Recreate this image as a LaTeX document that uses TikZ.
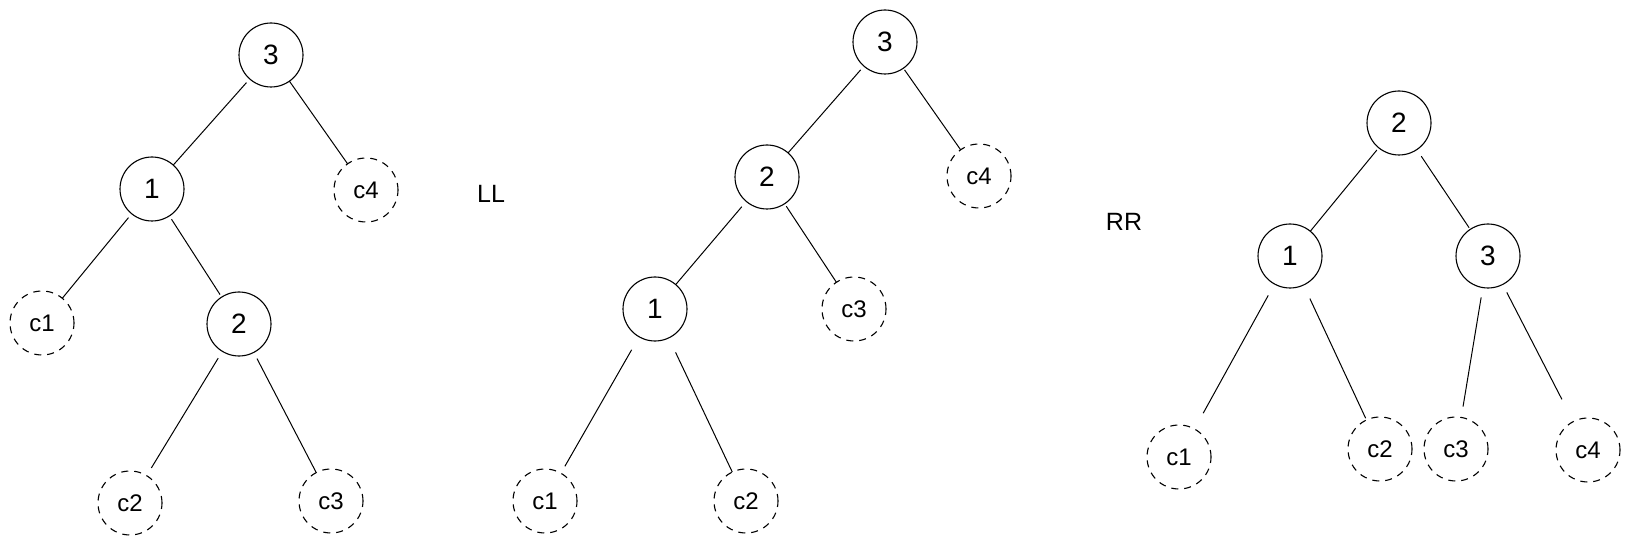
\documentclass[tikz,border=0pt]{standalone}
\usepackage{fontspec}
\setmainfont{Liberation Sans}
\begin{document}
\begin{tikzpicture}[x=1pt,y=-1pt,
  inode/.style={circle,draw,line width=1.1pt,minimum size=64pt,inner sep=0pt,outer sep=0pt,font=\fontsize{28}{28}\selectfont},
  leaf/.style={inode,dash pattern=on 7pt off 6pt,font=\fontsize{24}{24}\selectfont},
  edge/.style={line width=1pt},
  lbl/.style={inner sep=0pt,font=\fontsize{25}{25}\selectfont}]
\useasboundingbox (0,0) rectangle (1630,545);
% Tree 1
\node[inode] (t1r) at (271,55) {3};
\node[inode] (t1a) at (152,189) {1};
\node[leaf] (t1c4) at (366,190) {c4};
\node[leaf] (t1c1) at (42,323) {c1};
\node[inode] (t1b) at (239,324) {2};
\node[leaf] (t1c2) at (130,503) {c2};
\node[leaf] (t1c3) at (331,501) {c3};
\draw[edge,shorten <=5pt] (t1r) -- (t1a);
\draw[edge] (t1r) -- (t1c4);
\draw[edge,shorten <=5pt] (t1a) -- (t1c1);
\draw[edge,shorten <=4pt,shorten >=3pt] (t1a) -- (t1b);
\draw[edge,shorten <=8pt,shorten >=9pt] (t1b) -- (t1c2);
\draw[edge,shorten <=7pt] (t1b) -- (t1c3);
\node[lbl] (ll) at (491,194) {LL};
% Tree 2
\node[inode] (t2r) at (885,42) {3};
\node[inode] (t2b) at (767,177) {2};
\node[leaf] (t2c4) at (979,176) {c4};
\node[inode] (t2a) at (655,309) {1};
\node[leaf] (t2c3) at (854,309) {c3};
\node[leaf] (t2c1) at (545,501) {c1};
\node[leaf] (t2c2) at (746,501) {c2};
\draw[edge,shorten <=5pt] (t2r) -- (t2b);
\draw[edge,shorten <=2pt] (t2r) -- (t2c4);
\draw[edge,shorten <=7pt] (t2b) -- (t2a);
\draw[edge,shorten <=3pt] (t2b) -- (t2c3);
\draw[edge,shorten <=15pt,shorten >=8pt] (t2a) -- (t2c1);
\draw[edge,shorten <=16pt] (t2a) -- (t2c2);
% Tree 3
\node[lbl] (rr) at (1124,222) {RR};
\node[inode] (t3r) at (1399,123) {2};
\node[inode] (t3a) at (1290,256) {1};
\node[inode] (t3b) at (1488,256) {3};
\node[leaf] (t3c1) at (1179,457) {c1};
\node[leaf] (t3c2) at (1380,449) {c2};
\node[leaf] (t3c3) at (1456,449) {c3};
\node[leaf] (t3c4) at (1588,450) {c4};
\draw[edge,shorten <=3pt] (t3r) -- (t3a);
\draw[edge,shorten <=8pt,shorten >=2pt] (t3r) -- (t3b);
\draw[edge,shorten <=13pt,shorten >=18pt] (t3a) -- (t3c1);
\draw[edge,shorten <=15pt,shorten >=2pt] (t3a) -- (t3c2);
\draw[edge,shorten <=10pt,shorten >=11pt] (t3b) -- (t3c3);
\draw[edge,shorten <=9pt,shorten >=25pt] (t3b) -- (t3c4);
\end{tikzpicture}
\end{document}
